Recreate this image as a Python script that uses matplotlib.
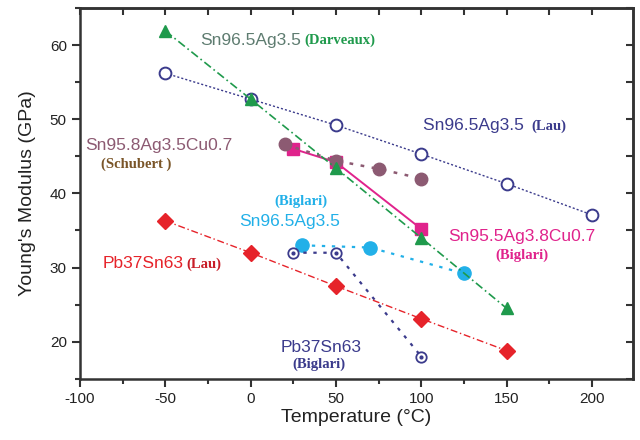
import numpy as np
import matplotlib.pyplot as plt
from matplotlib.ticker import MultipleLocator

plt.rcParams['font.family'] = ['Liberation Sans', 'DejaVu Sans']
plt.rcParams['axes.unicode_minus'] = False

# Young's modulus vs temperature for several solder alloys
darveaux_t = [-50, 0, 50, 100, 150]
darveaux_e = [61.9, 52.7, 43.4, 34.0, 24.5]

lau_snag_t = [-50, 0, 50, 100, 150, 200]
lau_snag_e = [56.2, 52.7, 49.2, 45.3, 41.3, 37.1]

schubert_t = [20, 50, 75, 100]
schubert_e = [46.6, 44.4, 43.3, 42.0]

biglari_sac_t = [25, 50, 100]
biglari_sac_e = [46.0, 44.2, 35.2]

biglari_snag_t = [30, 70, 125]
biglari_snag_e = [33.0, 32.7, 29.2]

biglari_pbsn_t = [25, 50, 100]
biglari_pbsn_e = [32.0, 32.0, 18.0]

lau_pbsn_t = [-50, 0, 50, 100, 150]
lau_pbsn_e = [36.3, 32.0, 27.5, 23.1, 18.8]

green = '#1f9a4c'
navy = '#3b3b8c'
mauve = '#8c5a72'
pink = '#e0238c'
cyan = '#22b0e8'
red = '#e6232a'

fig = plt.figure(figsize=(6.4, 4.4), dpi=100)
ax = fig.add_axes([0.125, 0.139, 0.864, 0.843])

ax.plot(lau_snag_t, lau_snag_e, linestyle=(0, (1.5, 1.5)), color=navy, lw=1.0,
        marker='o', ms=8.5, mfc='white', mec=navy, mew=1.4, zorder=3)
ax.plot(biglari_sac_t, biglari_sac_e, linestyle='-', color=pink, lw=1.4,
        marker='s', ms=8, mfc=pink, mec=pink, zorder=2.5)
ax.plot(schubert_t, schubert_e, linestyle=(0, (1.5, 3)), color=mauve, lw=1.8,
        marker='o', ms=9, mfc=mauve, mec=mauve, zorder=3)
ax.plot(darveaux_t, darveaux_e, linestyle=(0, (5, 2, 1, 2)), color=green, lw=1.2,
        marker='^', ms=9, mfc=green, mec=green, zorder=4)
ax.plot(biglari_snag_t, biglari_snag_e, linestyle=(0, (1.5, 3)), color=cyan, lw=1.6,
        marker='o', ms=9.5, mfc=cyan, mec=cyan, zorder=3)
ax.plot(biglari_pbsn_t, biglari_pbsn_e, linestyle=(0, (1.5, 3)), color=navy, lw=1.6,
        marker='o', ms=7.5, mfc='white', mec=navy, mew=1.3, zorder=3)
ax.plot(biglari_pbsn_t, biglari_pbsn_e, linestyle='none', marker='o', ms=2,
        color=navy, zorder=4)
ax.plot(lau_pbsn_t, lau_pbsn_e, linestyle=(0, (5, 2, 1, 2)), color=red, lw=1.0,
        marker='D', ms=8, mfc=red, mec=red, zorder=3)

REF_SIZE = 10.5
MAIN_SIZE = 12.5


def label(x, y, main, ref, c_main, c_ref):
    t = ax.text(x, y, main, color=c_main, fontsize=MAIN_SIZE, va='center', ha='left')
    ax.annotate('(' + ref + ')', xy=(1, 0.5), xycoords=t, xytext=(2, 0),
                textcoords='offset points', va='center', ha='left',
                color=c_ref, fontsize=REF_SIZE, fontweight='bold',
                family='Liberation Serif')


def ref_text(x, y, s, c):
    ax.text(x, y, s, color=c, fontsize=REF_SIZE, fontweight='bold',
            family='Liberation Serif', va='center', ha='center')


label(-29.5, 60.6, 'Sn96.5Ag3.5', 'Darveaux', '#5e7c70', green)
label(101, 49.1, 'Sn96.5Ag3.5 ', 'Lau', navy, navy)
label(-87, 30.5, 'Pb37Sn63', 'Lau', red, '#c81e28')

ax.text(-97, 46.4, 'Sn95.8Ag3.5Cu0.7', color=mauve, fontsize=MAIN_SIZE, va='center')
ref_text(-67, 43.9, '(Schubert )', '#7a5528')

ref_text(29.5, 38.9, '(Biglari)', cyan)
ax.text(-7, 36.2, 'Sn96.5Ag3.5', color=cyan, fontsize=MAIN_SIZE, va='center')

ax.text(116, 34.2, 'Sn95.5Ag3.8Cu0.7', color=pink, fontsize=MAIN_SIZE, va='center')
ref_text(159, 31.6, '(Biglari)', pink)

ax.text(17.5, 19.2, 'Pb37Sn63', color=navy, fontsize=MAIN_SIZE, va='center')
ref_text(40, 17.0, '(Biglari)', navy)

ax.set_xlim(-100, 224)
ax.set_ylim(15, 65)
ax.xaxis.set_major_locator(MultipleLocator(50))
ax.xaxis.set_minor_locator(MultipleLocator(25))
ax.yaxis.set_minor_locator(MultipleLocator(5))
ax.set_yticks([20, 30, 40, 50, 60])

ax.tick_params(which='both', direction='out', top=False, right=False,
               width=1.5, color='#333333', labelsize=11, labelcolor='#222222')
ax.tick_params(which='major', length=6)
ax.tick_params(which='minor', length=3.5)

# inward ticks on the top and right edges
sec_x = ax.secondary_xaxis('top')
sec_x.xaxis.set_major_locator(MultipleLocator(25))
sec_x.tick_params(direction='in', length=5, width=1.5, color='#333333', labeltop=False)
sec_y = ax.secondary_yaxis('right')
sec_y.yaxis.set_major_locator(MultipleLocator(5))
sec_y.tick_params(direction='in', length=5, width=1.5, color='#333333', labelright=False)
for s in list(ax.spines.values()) + [sec_x.spines['top'], sec_y.spines['right']]:
    s.set_linewidth(1.8)
    s.set_color('#333333')

ax.set_xlabel('Temperature (°C)', fontsize=14, color='#222222', labelpad=2)
ax.set_ylabel("Young's Modulus (GPa)", fontsize=14, color='#222222', labelpad=10)

fig.savefig('out.png', dpi=100)
